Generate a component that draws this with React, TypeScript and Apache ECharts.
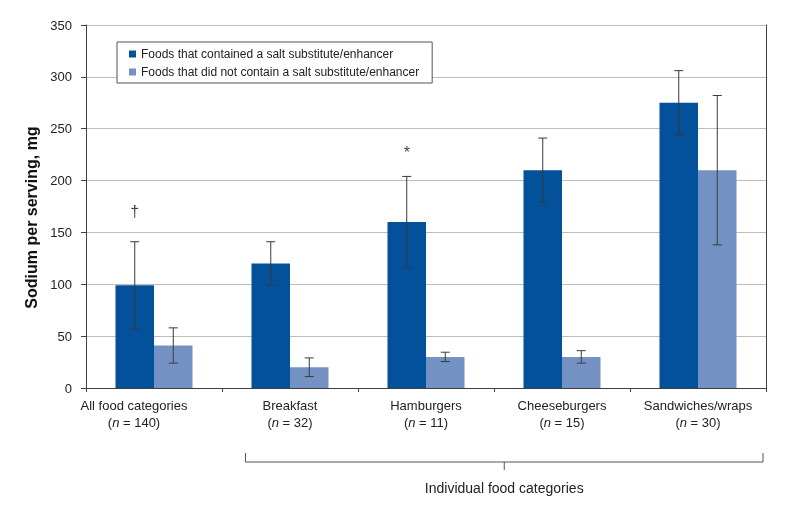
import React, { useEffect, useRef } from "react";
import * as echarts from "echarts";

const categories = ["All food categories", "Breakfast", "Hamburgers", "Cheeseburgers", "Sandwiches/wraps"];
const sampleSizes = [140, 32, 11, 15, 30];
const withSubstitute = [99, 120, 160, 210, 275];
const withSubstituteErr = [42, 21, 44, 31, 31];
const withoutSubstitute = [41, 20, 30, 30, 210];
const withoutSubstituteErr = [17, 9, 4.5, 6, 72];
const yTicks = { min: 0, max: 350, interval: 50 };
const annotations: [number, number, string][] = [
  [0, 170, "\u2020"],
  [2, 227, "*"],
];
const seriesNames = [
  "Foods that contained a salt substitute/enhancer",
  "Foods that did not contain a salt substitute/enhancer",
];
const groupLabel = "Individual food categories";

const FONT = "'Liberation Sans', Arial, Helvetica, sans-serif";
const DARK = "#02519A";
const LIGHT = "#7392C3";
const BAR_W = 38.5;

function errorSeries(values: number[], errs: number[], offset: number) {
  return {
    type: "custom",
    silent: true,
    z: 5,
    data: values.map((v, i) => [i, v, errs[i]]),
    encode: { x: 0, y: 1 },
    renderItem: (params: any, api: any) => {
      const idx = api.value(0);
      const v = api.value(1);
      const e = api.value(2);
      const x = api.coord([idx, v])[0] + offset;
      const yHi = api.coord([idx, v + e])[1];
      const yLo = api.coord([idx, v - e])[1];
      const cap = 4.5;
      const style = { stroke: "#3a3a3a", lineWidth: 1 };
      return {
        type: "group",
        children: [
          { type: "line", shape: { x1: x, y1: yHi, x2: x, y2: yLo }, style },
          { type: "line", shape: { x1: x - cap, y1: yHi, x2: x + cap, y2: yHi }, style },
          { type: "line", shape: { x1: x - cap, y1: yLo, x2: x + cap, y2: yLo }, style },
        ],
      };
    },
  };
}

export default function App() {
  const ref = useRef<HTMLDivElement>(null);
  useEffect(() => {
    if (!ref.current) return;
    const chart = echarts.init(ref.current, undefined, { renderer: "svg" });
    const option: any = {
      animation: false,
      textStyle: { fontFamily: FONT },
      grid: { left: 86, right: 26, top: 25, bottom: 131, containLabel: false },
      legend: {
        data: seriesNames,
        orient: "vertical",
        left: 117,
        top: 42,
        backgroundColor: "#fff",
        borderColor: "#555",
        borderWidth: 1,
        borderRadius: 0,
        padding: [6, 13, 5, 12],
        itemGap: 6,
        itemWidth: 7,
        itemHeight: 7,
        icon: "rect",
        textStyle: { fontSize: 12, color: "#222", fontFamily: FONT },
      },
      xAxis: {
        type: "category",
        data: categories.map((c, i) =>
          i === 0 ? { value: c, textStyle: { padding: [0, 40, 0, 0] } } : c
        ),
        axisLine: { lineStyle: { color: "#404040" } },
        axisTick: { show: true, length: 4, interval: 0, lineStyle: { color: "#404040" } },
        axisLabel: {
          interval: 0,
          margin: 9,
          color: "#222",
          fontSize: 13,
          lineHeight: 17,
          formatter: (val: string, i: number) => `${val}\n({i|n} = ${sampleSizes[i]})`,
          rich: {
            i: { fontStyle: "italic", fontSize: 13, color: "#222", lineHeight: 17 },
          },
        },
      },
      yAxis: [
        {
          type: "value",
          min: yTicks.min,
          max: yTicks.max,
          interval: yTicks.interval,
          name: "Sodium per serving, mg",
          nameLocation: "middle",
          nameGap: 44,
          nameTextStyle: { fontSize: 16, fontWeight: "bold", color: "#111", padding: [0, 22, 0, 0] },
          axisLine: { show: true, lineStyle: { color: "#404040" } },
          axisTick: { show: true, length: 5, lineStyle: { color: "#404040" } },
          axisLabel: { color: "#222", fontSize: 13, margin: 14 },
          splitLine: { lineStyle: { color: "#BDBDBD", width: 1 } },
        },
        {
          type: "value",
          position: "right",
          min: yTicks.min,
          max: yTicks.max,
          interval: yTicks.interval,
          axisLine: { show: true, lineStyle: { color: "#404040" } },
          axisTick: { show: false },
          axisLabel: { show: false },
          splitLine: { show: false },
        },
      ],
      series: [
        {
          name: seriesNames[0],
          type: "bar",
          data: withSubstitute,
          barWidth: BAR_W,
          barGap: "0%",
          itemStyle: { color: DARK },
        },
        {
          name: seriesNames[1],
          type: "bar",
          data: withoutSubstitute,
          barWidth: BAR_W,
          barGap: "0%",
          itemStyle: { color: LIGHT },
        },
        errorSeries(withSubstitute, withSubstituteErr, -BAR_W / 2),
        errorSeries(withoutSubstitute, withoutSubstituteErr, BAR_W / 2),
        {
          type: "scatter",
          symbolSize: 0,
          silent: true,
          data: annotations.map((a) => [a[0], a[1], a[2]]),
          label: {
            show: true,
            position: "inside",
            offset: [-BAR_W / 2, 0],
            formatter: (p: any) => p.data[2],
            fontSize: 16,
            color: "#111",
          },
        },
      ],
    };
    chart.setOption(option);

    const c1 = chart.convertToPixel({ xAxisIndex: 0 }, categories[1]) as number;
    const c2 = chart.convertToPixel({ xAxisIndex: 0 }, categories[2]) as number;
    const cLast = chart.convertToPixel({ xAxisIndex: 0 }, categories[categories.length - 1]) as number;
    const band = c2 - c1;
    const left = c1 - BAR_W - 6;
    const right = cLast + band / 2 - 3;
    const cx = (left + right) / 2;
    const by = 462;
    chart.setOption({
      graphic: [
        {
          type: "polyline",
          shape: { points: [[left, by - 9], [left, by], [right, by], [right, by - 9]] },
          style: { stroke: "#555", lineWidth: 1, fill: "none" },
        },
        {
          type: "line",
          shape: { x1: cx, y1: by, x2: cx, y2: by + 8 },
          style: { stroke: "#555", lineWidth: 1 },
        },
        {
          type: "text",
          x: cx,
          y: 488,
          style: {
            text: groupLabel,
            fontSize: 14,
            fill: "#222",
            fontFamily: FONT,
            textAlign: "center",
            textVerticalAlign: "middle",
          },
        },
      ],
    });
    return () => chart.dispose();
  }, []);
  return <div ref={ref} style={{ position: "fixed", left: 0, top: 0, width: 792, height: 519 }} />;
}
